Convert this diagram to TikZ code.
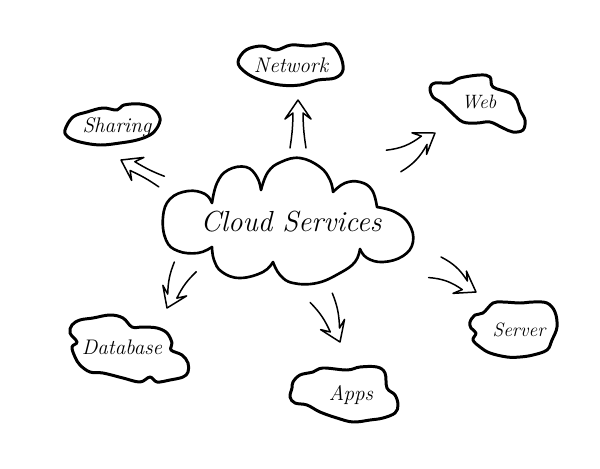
\documentclass[tikz,border=0pt]{standalone}
\usetikzlibrary{calc}
\tikzset{
  bigcloud/.style={line width=1.5pt, line cap=round, line join=round},
  smallcloud/.style={line width=1.7pt, line cap=round, line join=round},
  sketch/.style={line width=0.85pt, line cap=round, line join=round},
  lbl/.style={font=\fontsize{12}{14}\selectfont\itshape, inner sep=0pt},
  biglbl/.style={font=\fontsize{16.5}{19}\selectfont\itshape, inner sep=0pt}
}
\newcommand{\handarrow}[6]{%
  \begin{scope}[shift={(#1)}, rotate=#2]
    \draw[sketch] (-#3,#4) to[bend left=#5] (-13,5) -- (-19,13) -- (0,0)
      -- (-19,-13) -- (-13,-5) to[bend left=#6] (-#3,-#4);
  \end{scope}}
\begin{document}
\begin{tikzpicture}[x=0.02cm, y=-0.02cm]
\useasboundingbox (0,0) rectangle (600,468);
\fill[white] (0,0) rectangle (600,468);

% ---- main cloud ----
\draw[bigcloud] plot[smooth,tension=0.7] coordinates {(212,203) (217,183) (228,170) (246,167) (257,177) (261,190)};
\draw[bigcloud] plot[smooth,tension=0.7] coordinates {(261,190) (268,172) (281,162) (300,158) (320,167) (330,180) (333,192)};
\draw[bigcloud] plot[smooth,tension=0.7] coordinates {(333,192) (345,183) (360,182) (372,190) (377,207)};
\draw[bigcloud] plot[smooth,tension=0.7] coordinates {(377,207) (395,212) (409,224) (413,242) (403,256) (383,262) (367,258) (360,249)};
\draw[bigcloud] plot[smooth,tension=0.7] coordinates {(360,249) (355,262) (340,273) (317,283) (293,283) (280,275) (273,262)};
\draw[bigcloud] plot[smooth,tension=0.7] coordinates {(273,262) (263,272) (240,278) (222,272) (214,260) (212,247)};
\draw[bigcloud] plot[smooth,tension=0.7] coordinates {(212,247) (198,253) (178,251) (166,240) (163,217) (170,199) (188,191) (205,194) (212,203)};
\node[biglbl] (cloud) at (291,222) {Cloud Services};

% ---- Network ----
\draw[smallcloud] plot[smooth cycle,tension=0.6] coordinates {(238,62) (246,50) (262,46) (276,50) (291,45) (310,46) (330,44) (340,55) (343,70) (335,78) (318,80) (300,85) (280,85) (260,80) (245,72)};
\node[lbl] (network) at (291,65) {Network};

% ---- Sharing ----
\draw[smallcloud] plot[smooth cycle,tension=0.6] coordinates {(65,130) (73,117) (87,112) (103,108) (117,110) (124,105) (140,104) (153,108) (160,118) (157,128) (150,135) (137,140) (120,143) (100,145) (80,142) (68,137)};
\node[lbl] (sharing) at (117,127) {Sharing};

% ---- Web ----
\draw[smallcloud] plot[smooth cycle,tension=0.6] coordinates {(430,88) (435,83) (450,83) (460,78) (480,75) (490,77) (493,87) (510,93) (517,100) (520,110) (525,120) (523,130) (513,132) (503,128) (490,122) (477,123) (463,122) (452,113) (442,103) (433,97)};
\node[lbl, font=\fontsize{11}{13}\selectfont\itshape] (web) at (479,102) {Web};

% ---- Server ----
\draw[smallcloud] plot[smooth cycle,tension=0.6] coordinates {(470,322) (475,315) (483,313) (493,303) (503,302) (520,303) (533,302) (547,303) (555,312) (557,327) (552,340) (547,350) (533,355) (520,357) (507,357) (490,353) (480,347) (473,340) (476,333) (471,328)};
\node[lbl, font=\fontsize{11}{13}\selectfont\itshape] (server) at (519,330) {Server};

% ---- Apps ----
\draw[smallcloud] plot[smooth cycle,tension=0.6] coordinates {(293,382) (300,375) (313,372) (323,368) (347,370) (360,367) (377,367) (385,373) (387,388) (395,395) (398,405) (395,413) (383,418) (370,420) (353,422) (337,418) (320,412) (307,405) (295,403) (290,397) (292,388)};
\node[lbl] (apps) at (351,395) {Apps};

% ---- Database ----
\draw[smallcloud] plot[smooth cycle,tension=0.6] coordinates {(72,325) (80,320) (93,318) (110,315) (123,318) (132,327) (143,327) (157,328) (167,333) (172,343) (171,350) (182,355) (188,363) (188,372) (183,377) (170,380) (157,382) (150,377) (140,382) (123,378) (103,373) (90,372) (80,365) (75,357) (72,347) (77,342) (70,333)};
\node[lbl] (database) at (122,347) {Database};

% ---- arrows ----
\coordinate (tipNet) at (298,100);
\coordinate (tipShare) at (121,160);
\coordinate (tipWeb) at (435,133);
\coordinate (tipServer) at (476,292);
\coordinate (tipApps) at (340,342);
\coordinate (tipDb) at (167,308);
\handarrow{tipNet}{90}{48}{8}{4}{4}
\handarrow{tipShare}{152}{46}{6}{5}{5}
\handarrow{tipWeb}{34}{50}{13}{-15}{15}
\handarrow{tipServer}{-31}{48}{12}{15}{-15}
\handarrow{tipApps}{-67}{48}{12}{10}{-10}
\handarrow{tipDb}{246}{45}{12}{-10}{10}
\end{tikzpicture}
\end{document}
